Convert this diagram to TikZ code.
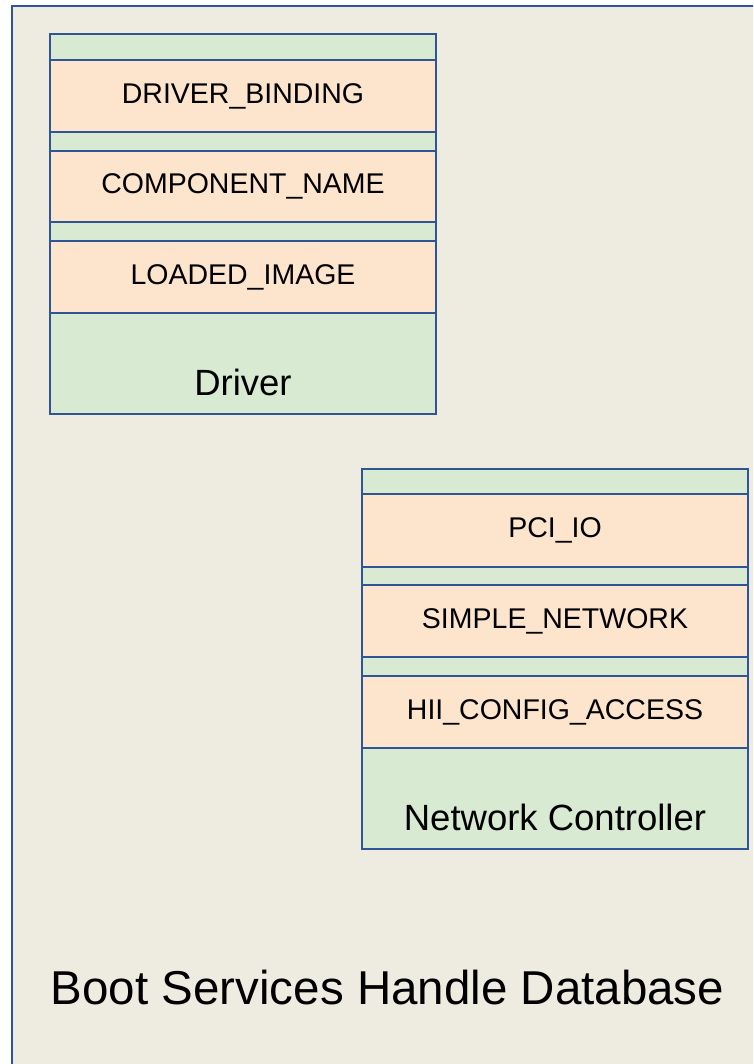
\documentclass[tikz,border=0pt]{standalone}
\usepackage{fontspec}
\setmainfont{Liberation Sans}
\definecolor{pagebg}{RGB}{238,235,225}
\definecolor{frameblue}{RGB}{47,85,151}
\definecolor{layergreen}{RGB}{217,234,211}
\definecolor{layerpeach}{RGB}{252,228,205}
\tikzset{
  layer/.style={draw=frameblue, line width=1.4pt, anchor=north west,
    minimum width=386pt, inner sep=0pt, outer sep=0pt},
  gap/.style={layer, fill=layergreen},
  proto/.style={layer, fill=layerpeach, font=\fontsize{28.5}{34}\selectfont},
  caption/.style={anchor=base, inner sep=0pt, font=\fontsize{36.5}{44}\selectfont},
}
\begin{document}
\begin{tikzpicture}[x=1pt,y=-1pt]
\useasboundingbox (0,0) rectangle (753,1064);
\clip (0,0) rectangle (753,1064);
% handle database frame, running past the right and bottom edges
\draw[frameblue, line width=2pt, fill=pagebg] (12,6) rectangle (780,1090);

% driver handle
\node[gap, minimum height=26pt] (d0) at (50,34) {};
\node[proto, minimum height=72pt] (d1) at (50,60) {DRIVER\_BINDING};
\node[gap, minimum height=19pt] (d2) at (50,132) {};
\node[proto, minimum height=71pt] (d3) at (50,151) {COMPONENT\_NAME};
\node[gap, minimum height=19pt] (d4) at (50,222) {};
\node[proto, minimum height=72pt] (d5) at (50,241) {LOADED\_IMAGE};
\node[gap, minimum height=101pt] (d6) at (50,313) {};
\node[caption] (dlabel) at (243,395) {Driver};

% network controller handle
\node[gap, minimum height=25pt] (n0) at (362,469) {};
\node[proto, minimum height=73pt] (n1) at (362,494) {PCI\_IO};
\node[gap, minimum height=18pt] (n2) at (362,567) {};
\node[proto, minimum height=72pt] (n3) at (362,585) {SIMPLE\_NETWORK};
\node[gap, minimum height=19pt] (n4) at (362,657) {};
\node[proto, minimum height=72pt] (n5) at (362,676) {HII\_CONFIG\_ACCESS};
\node[gap, minimum height=101pt] (n6) at (362,748) {};
\node[caption] (nlabel) at (555,830) {Network Controller};

% database title
\node[anchor=base, inner sep=0pt, font=\fontsize{47.5}{56}\selectfont] (title) at (387.5,1004) {Boot Services Handle Database};
\end{tikzpicture}
\end{document}
